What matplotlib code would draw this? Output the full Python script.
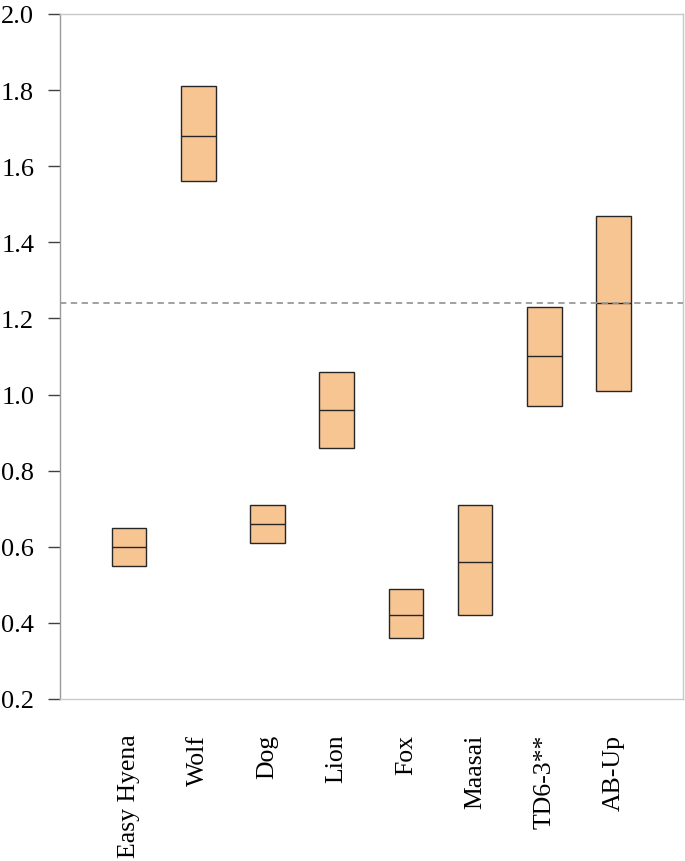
import matplotlib.pyplot as plt
import numpy as np

categories = ["Easy Hyena", "Wolf", "Dog", "Lion", "Fox", "Maasai", "TD6-3**", "AB-Up"]
lows = [0.55, 1.56, 0.61, 0.86, 0.36, 0.42, 0.97, 1.01]
highs = [0.65, 1.81, 0.71, 1.06, 0.49, 0.71, 1.23, 1.47]
medians = [0.60, 1.68, 0.66, 0.96, 0.42, 0.56, 1.10, 1.24]
reference = 1.24

plt.rcParams['font.family'] = ['Liberation Serif', 'DejaVu Serif']

fig = plt.figure(figsize=(6.85, 8.62), dpi=100)
ax = fig.add_axes([0.0876, 0.188, 0.909, 0.7946])

x = np.arange(len(categories))
lows_a = np.array(lows)
highs_a = np.array(highs)
ax.bar(x, highs_a - lows_a, bottom=lows_a, width=0.5, color="#F7C592",
       edgecolor="#262626", linewidth=1.0, zorder=2)
ax.hlines(medians, x - 0.25, x + 0.25, color="#262626", linewidth=1.0, zorder=3)
ax.axhline(reference, color="#9a9a9a", linestyle=(0, (3.5, 2.5)), linewidth=1.3, zorder=4)

ax.set_xlim(-1, 8)
ax.set_ylim(0.2, 2.0)
ax.set_yticks(np.arange(0.2, 2.01, 0.2))
ax.set_yticklabels([f"{v:.1f}" for v in np.arange(0.2, 2.01, 0.2)], fontsize=19)
ax.set_xticks(x)
ax.set_xticklabels(categories, rotation=90, fontsize=18.5, va="top")
ax.tick_params(axis="x", length=0, pad=25)
ax.tick_params(axis="y", length=8.6, width=1.0, color="#404040", pad=10)

for side in ["top", "right", "bottom", "left"]:
    ax.spines[side].set_color("#c8c8c8")
    ax.spines[side].set_linewidth(1.0)
ax.spines["left"].set_color("#999999")

fig.savefig("out.png", dpi=100)
